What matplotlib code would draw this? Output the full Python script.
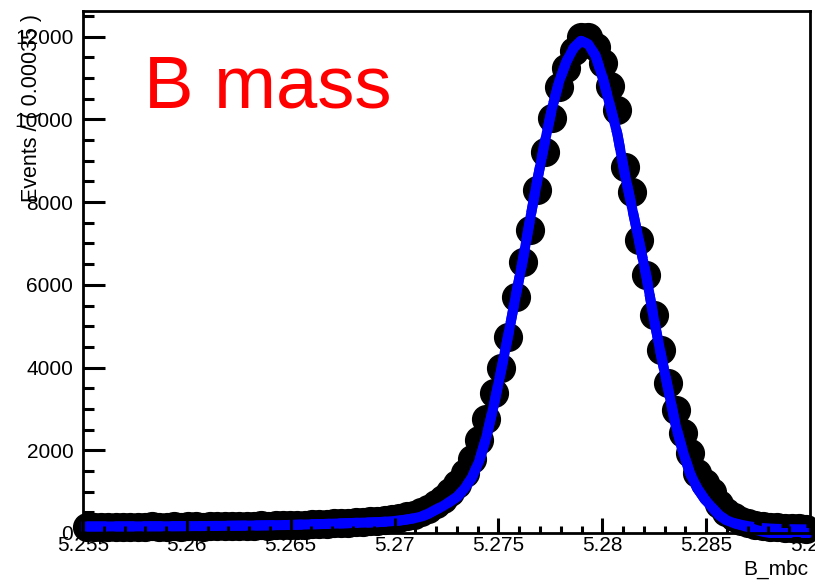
import numpy as np
import matplotlib.pyplot as plt
from matplotlib.ticker import MultipleLocator, FuncFormatter

plt.rcParams['font.family'] = ['Liberation Sans', 'DejaVu Sans']

# binning of B_mbc
x_lo, x_hi = 5.255, 5.29
bin_width = 0.00035

# events per bin
counts = [
    140, 150, 135, 145, 150, 140, 155, 145, 150, 160,
    150, 155, 160, 150, 165, 160, 155, 165, 170, 160,
    175, 170, 180, 175, 185, 180, 190, 195, 190, 200,
    205, 210, 215, 225, 230, 240, 250, 265, 275, 290,
    290, 310, 330, 360, 400, 440, 500, 590, 700, 830,
    980, 1180, 1450, 1780, 2250, 2750, 3390, 4000, 4730, 5700,
    6550, 7330, 8300, 9210, 10040, 10790, 11250, 11650, 12000, 12000,
    11750, 11370, 10800, 10230, 8850, 8250, 7090, 6250, 5270, 4430,
    3630, 2975, 2420, 1935, 1450, 1200, 1000, 700, 500, 380,
    300, 250, 200, 170, 150, 140, 130, 120, 110, 100,
]

# fitted pdf at the bin centres (common part)
fit_core = [
    157, 157, 158, 158, 159, 159, 160, 160, 161, 162,
    162, 163, 164, 165, 166, 167, 168, 170, 171, 173,
    175, 177, 179, 181, 184, 186, 189, 192, 195, 200,
    205, 210, 215, 220, 226, 232, 238, 245, 250, 255,
    262, 272, 285, 300, 325, 355, 395, 465, 560, 650,
    760, 880, 1080, 1340, 1740, 2330, 3080, 3920, 4790, 5710,
    6600, 7590, 8540, 9430, 10260, 10920, 11400, 11730, 11900, 11820,
    11540, 11000, 10330, 9650, 8700, 7880, 7050, 6200, 5200, 4310,
    3470, 2620, 1980, 1440, 1080, 820, 620, 430, 310, 240,
]
# solid curve stops at the end of the fit range, dashed one goes on
solid_tail = [190, 140, 80, 30, 0, 0, 0, 0, 0, 0]
dashed_tail = [200, 165, 140, 120, 108, 100, 95, 92, 90, 88]

centers = x_lo + bin_width * (np.arange(len(counts)) + 0.5)
fit_solid = fit_core + solid_tail
fit_dashed = fit_core + dashed_tail

fig = plt.figure(figsize=(8.15, 5.8), dpi=100)
ax = fig.add_axes([83 / 815, 1 - 533 / 580, (810 - 83) / 815, (533 - 11.3) / 580])

ax.plot(centers, counts, 'o', color='black', markersize=20,
        clip_on=False, zorder=2.0)
ax.plot(centers, fit_solid, '-', color='blue', lw=7.2,
        clip_on=False, zorder=2.1)
ax.plot(centers, fit_dashed, color='blue', lw=7.2, linestyle=(0, (2, 0.8)),
        clip_on=False, zorder=2.2)

ax.set_xlim(x_lo, x_hi)
ax.set_ylim(0, 12614)
ax.set_axisbelow(False)

ax.xaxis.set_major_locator(MultipleLocator(0.005))
ax.xaxis.set_minor_locator(MultipleLocator(0.001))
ax.xaxis.set_major_formatter(FuncFormatter(lambda v, p: '%g' % round(v, 4)))
ax.yaxis.set_major_locator(MultipleLocator(2000))
ax.yaxis.set_minor_locator(MultipleLocator(500))
ax.yaxis.set_major_formatter(FuncFormatter(lambda v, p: '%d' % v))

ax.tick_params(which='both', direction='in', top=False, right=False, width=2.2)
ax.tick_params(axis='y', which='major', length=16, pad=7, labelsize=15)
ax.tick_params(axis='y', which='minor', length=8)
ax.tick_params(axis='x', which='major', length=11, pad=2, labelsize=15)
ax.tick_params(axis='x', which='minor', length=5)
for sp in ax.spines.values():
    sp.set_linewidth(2.0)

fig.text(31 / 815, 1 - 14 / 580, 'Events / ( 0.00035 )', rotation=90,
         ha='center', va='top', fontsize=15.5)
fig.text(808 / 815, 1 - 575 / 580, 'B_mbc', ha='right', va='baseline', fontsize=15)
fig.text(144 / 815, 1 - 108 / 580, 'B mass', color='red', fontsize=53.5,
         ha='left', va='baseline')

fig.savefig('out.png', dpi=100)
